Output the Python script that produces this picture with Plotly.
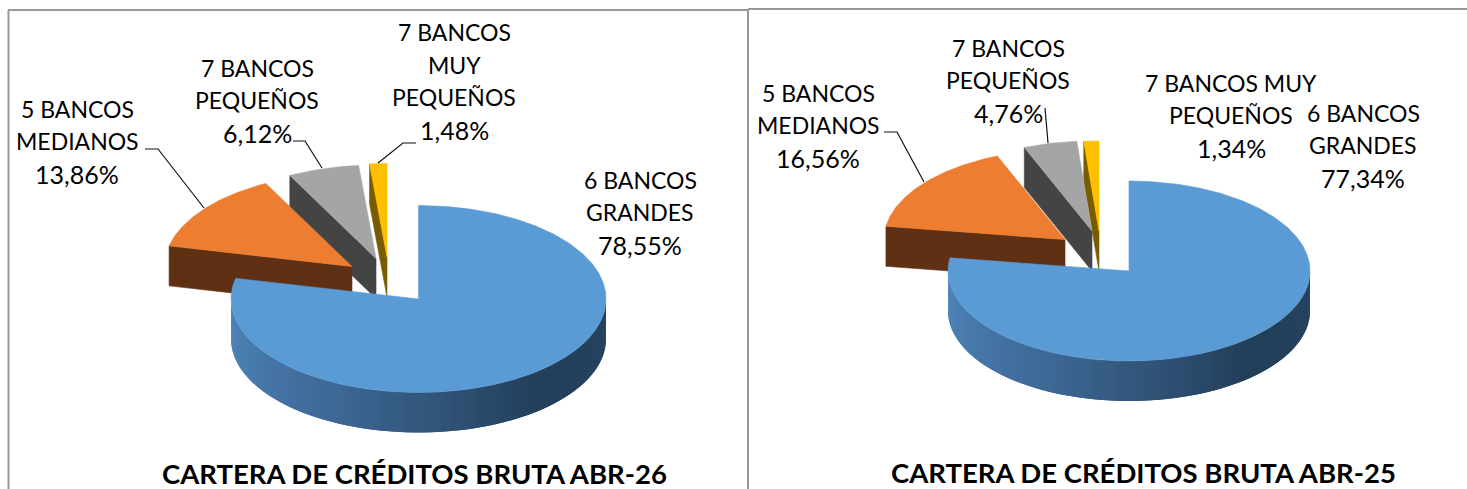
import math
import plotly.graph_objects as go

# ---- data ----
categories = ["6 BANCOS GRANDES", "5 BANCOS MEDIANOS", "7 BANCOS PEQUEÑOS", "7 BANCOS MUY PEQUEÑOS"]
values_abr26 = [78.55, 13.86, 6.12, 1.48]
values_abr25 = [77.34, 16.56, 4.76, 1.34]
title_abr26 = "CARTERA DE CRÉDITOS BRUTA ABR-26"
title_abr25 = "CARTERA DE CRÉDITOS BRUTA ABR-25"
labels_abr26 = ["6 BANCOS<br>GRANDES<br>78,55%", "5 BANCOS<br>MEDIANOS<br>13,86%",
                "7 BANCOS<br>PEQUEÑOS<br>6,12%", "7 BANCOS<br>MUY<br>PEQUEÑOS<br>1,48%"]
labels_abr25 = ["6 BANCOS<br>GRANDES<br>77,34%", "5 BANCOS<br>MEDIANOS<br>16,56%",
                "7 BANCOS<br>PEQUEÑOS<br>4,76%", "7 BANCOS MUY<br>PEQUEÑOS<br>1,34%"]

# ---- styling / layout ----
TOP = ["#5B9BD5", "#ED7D31", "#A5A5A5", "#FFC000"]
FACE = [None, "#5F3013", "#444444", "#7A5C00"]
WALL_STOPS = [(0.0, (80, 135, 190)), (0.35, (62, 105, 150)), (0.72, (35, 63, 90)), (1.0, (38, 68, 96))]
FONT = "Lato, Carlito, Calibri, sans-serif"
W, H, SPLIT = 1467, 489, 748
LINE_STEP = 32.5


def wall_colour(t):
    for (a, ca), (b, cb) in zip(WALL_STOPS, WALL_STOPS[1:]):
        if t <= b:
            f = (t - a) / (b - a)
            return "rgb(%d,%d,%d)" % tuple(ca[i] + (cb[i] - ca[i]) * f for i in range(3))
    return "rgb(38,68,96)"


def pt(c, rx, ry, deg, dy=0):
    a = math.radians(deg)
    return c[0] + rx * math.sin(a), c[1] - ry * math.cos(a) + dy


def poly(fig, pts, colour, axis, name, edge=0.6):
    xs = [p[0] for p in pts] + [pts[0][0]]
    ys = [p[1] for p in pts] + [pts[0][1]]
    fig.add_trace(go.Scatter(x=xs, y=ys, mode="lines", fill="toself", fillcolor=colour,
                             line=dict(color=colour, width=edge), xaxis="x" + axis, yaxis="y" + axis,
                             name=name, hoverinfo="name", showlegend=False))


def pie(fig, values, apexes, rx, ry, depth, axis):
    total = sum(values)
    cum = 0
    arcs = []
    for v in values:
        arcs.append((cum / total * 360, (cum + v) / total * 360))
        cum += v
    for i in (3, 2, 1, 0):  # back slices first, the large one in front
        a0, a1 = arcs[i]
        c = apexes[i]
        name = categories[i]
        if FACE[i]:  # cut face turned towards the viewer
            p = pt(c, rx, ry, a0)
            poly(fig, [p, c, (c[0], c[1] + depth), (p[0], p[1] + depth)], FACE[i], axis, name)
        lo, hi = max(a0, 90), min(a1, 270)
        n = 90
        if hi > lo:  # outer wall, painted left to right, each strip overlapping the next
            for k in range(n):
                t0 = hi - (hi - lo) * k / n
                t1 = max(lo, hi - (hi - lo) * (k + 2) / n)
                mid = (t0 + t1) / 2
                top = [pt(c, rx, ry, t) for t in (t0, mid, t1)]
                bottom = [pt(c, rx, ry, t, depth) for t in (t1, mid, t0)]
                poly(fig, top + bottom, wall_colour((k + 0.5) / n), axis, name, 0)
        steps = max(4, int((a1 - a0) * 1.5))
        arc = [pt(c, rx, ry, a0 + (a1 - a0) * k / steps) for k in range(steps + 1)]
        poly(fig, [c] + arc, TOP[i], axis, name)


def leader(fig, pts, axis):
    fig.add_trace(go.Scatter(x=[p[0] for p in pts], y=[p[1] for p in pts], mode="lines",
                             line=dict(color="#111111", width=1.2), xaxis="x" + axis, yaxis="y" + axis,
                             hoverinfo="skip", showlegend=False))


fig = go.Figure()
pie(fig, values_abr26, [(418.5, 299), (352, 266.5), (376, 258.5), (387, 257)], 187.5, 93.5, 40, "")
pie(fig, values_abr25, [(1129, 271), (1065, 239.5), (1092, 231), (1099, 231)], 181, 90, 40, "2")

leader(fig, [(145, 149), (158, 149), (204, 208)], "")
leader(fig, [(293, 141), (305, 141), (322, 168)], "")
leader(fig, [(416, 143), (403, 143), (378, 163)], "")
leader(fig, [(884, 132), (897, 132), (924, 182)], "2")
leader(fig, [(1045, 108), (1048, 143)], "2")

annotations = []


def text(x, y, s, axis, size=23, bold=False):
    annotations.append(dict(x=x, y=y, text="<b>%s</b>" % s if bold else s, xref="x" + axis, yref="y" + axis,
                            showarrow=False, xanchor="center", yanchor="middle", align="center",
                            font=dict(family=FONT, size=size, color="#000000")))


def label(x, y, s, axis):
    lines = s.split("<br>")
    for i, line in enumerate(lines):
        size = 25 if line.endswith("%") else 23
        text(x, y + (i - (len(lines) - 1) / 2) * LINE_STEP, line, axis, size)


for s, (x, y) in zip(labels_abr26, [(640, 212), (77, 141), (257, 100), (454, 81)]):
    label(x, y, s, "")
for s, (x, y) in zip(labels_abr25, [(1363, 145), (818, 125), (1008, 80), (1231, 115)]):
    label(x, y, s, "2")
text(414, 473, title_abr26, "", 27.5, True)
text(1143.5, 472, title_abr25, "2", 27.5, True)

border = dict(color="#999999", width=2)
shapes = [
    dict(type="line", xref="paper", yref="paper", x0=8.5 / W, x1=8.5 / W, y0=0, y1=1 - 10 / H, line=border),
    dict(type="line", xref="paper", yref="paper", x0=8 / W, x1=SPLIT / W, y0=1 - 10 / H, y1=1 - 10 / H, line=border),
    dict(type="line", xref="paper", yref="paper", x0=SPLIT / W, x1=SPLIT / W, y0=0, y1=1 - 9 / H, line=border),
    dict(type="line", xref="paper", yref="paper", x0=SPLIT / W, x1=1, y0=1 - 9 / H, y1=1 - 9 / H, line=border),
]

hidden = dict(visible=False, fixedrange=True)
fig.update_layout(
    width=W, height=H, margin=dict(l=0, r=0, t=0, b=0), paper_bgcolor="white", plot_bgcolor="white",
    showlegend=False, annotations=annotations, shapes=shapes,
    xaxis=dict(domain=[0, SPLIT / W], range=[0, SPLIT], **hidden),
    yaxis=dict(domain=[0, 1], range=[H, 0], **hidden),
    xaxis2=dict(domain=[SPLIT / W, 1], range=[SPLIT, W], anchor="y2", **hidden),
    yaxis2=dict(domain=[0, 1], range=[H, 0], anchor="x2", **hidden),
)
fig.write_html("out.html", config={"displayModeBar": False},
               post_script="document.body.style.margin='0';document.body.style.overflow='hidden';")
